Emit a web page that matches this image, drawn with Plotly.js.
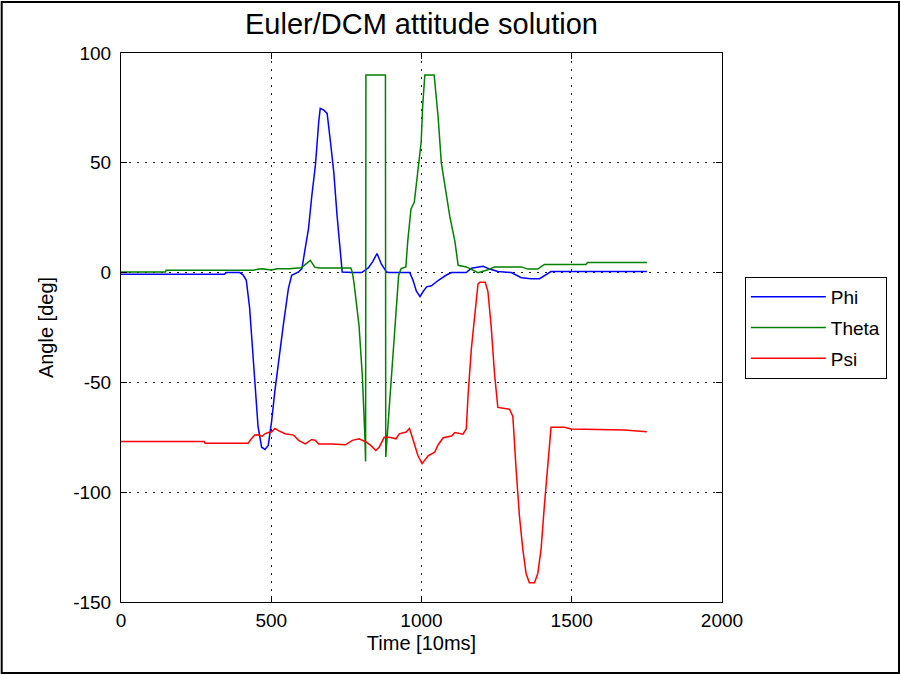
<!DOCTYPE html>
<html>
<head>
<meta charset="utf-8">
<script src="https://cdn.plot.ly/plotly-3.0.1.min.js"></script>
<style>
html,body{margin:0;padding:0;background:#fff;}
#chart{width:901px;height:675px;}
</style>
</head>
<body>
<div id="chart"></div>
<script>
// Series names
var seriesNames = ["Phi", "Theta", "Psi"];
var seriesColors = ["#0000ff", "#008000", "#ff0000"];

// Phi (time in 10ms, angle in deg)
var phiX = [0,344,350,395,406,417,428,445,456,468,479,490,501,512,524,540,557,568,591,602,613,624,635,647,658,663,675,686,697,708,719,730,736,770,801,823,837,852,867,882,889,961,972,983,995,1006,1017,1033,1055,1083,1100,1149,1166,1205,1227,1254,1299,1332,1365,1393,1415,1431,1750];
var phiY = [-0.8,-0.8,0,0,-1,-3.5,-16,-50,-70,-79.5,-80.5,-78.7,-68,-54,-40.7,-24,-7.3,-1.2,0.3,1.8,11,20,35,49,68.7,74.8,74,72.5,59.6,45.9,26,11,0.3,0,0,2.1,4.9,8.7,3.7,0.6,0,0,-3.6,-8.5,-10.9,-8.5,-6.5,-6,-3.6,-1.1,0,0,2,2.9,1.6,0.5,0,-2.3,-2.8,-2.8,-1.1,0.5,0.5];

// Theta
var thetaX = [0,148,150,440,456,470,500,520,560,600,630,645,658,765,770,775,792,803,811,814,815,880,881,893,904,915,924,932,948,954,965,976,988,999,1004,1011,1042,1055,1066,1083,1094,1111,1122,1149,1166,1188,1221,1243,1332,1354,1387,1409,1547,1553,1750];
var thetaY = [0.3,0.3,1.1,1.1,1.5,1.8,1.2,1.8,1.8,2.2,5.6,2.5,2.1,2.1,0,-4.3,-24,-46.8,-72.6,-86,90,90,-84,-62,-40.7,-19.5,-1.2,1.8,2.6,14,29,32,47,59.6,76,90,90,71.4,50,35.5,25.7,14.3,3.3,2.6,1.3,0,1.3,2.6,2.6,1.6,1.6,3.7,3.7,4.6,4.6];

// Psi
var psiX = [0,277,280,423,434,445,456,470,479,490,501,512,524,546,574,591,613,624,635,647,658,703,747,770,792,814,831,848,859,876,893,915,926,949,960,971,988,1002,1016,1022,1044,1055,1072,1100,1111,1138,1149,1155,1166,1177,1188,1194,1212,1221,1232,1243,1254,1293,1304,1315,1326,1337,1348,1359,1376,1387,1398,1409,1420,1431,1476,1498,1675,1750];
var psiY = [-76.9,-76.9,-77.7,-77.7,-75.7,-74,-73.9,-74.5,-73.4,-72.8,-72.6,-71,-72,-73.4,-74,-76.4,-78,-77,-76,-76.4,-78,-78,-78.4,-76.4,-75.7,-77,-78.7,-81,-79.5,-75,-75,-75.7,-73.4,-72.6,-71,-75.7,-83.3,-87,-84.8,-83.4,-81.8,-78.5,-75.2,-74.4,-72.8,-73.6,-71.2,-55.7,-34.5,-18.2,-5.2,-4.4,-4.4,-8.5,-24.8,-46,-61.4,-62.2,-65.5,-90,-111,-125.8,-137,-141.2,-141.2,-137,-125.8,-106,-86.7,-70.4,-70.4,-71.2,-71.7,-72.5];

// Axis ticks
var xTicks = [0, 500, 1000, 1500, 2000];
var yTicks = [-150, -100, -50, 0, 50, 100];

var xs = [phiX, thetaX, psiX];
var ys = [phiY, thetaY, psiY];

var FONT = "Liberation Sans, Arial, Helvetica, sans-serif";

var traces = seriesNames.map(function(n, i){
  return {
    x: xs[i], y: ys[i], name: n, type: "scatter", mode: "lines",
    legendgroup: "g" + i,
    line: {color: seriesColors[i], width: 1.5}
  };
});

var axisCommon = {
  showline: true, linecolor: "#000", linewidth: 1, mirror: "allticks",
  ticks: "inside", ticklen: 6, tickcolor: "#000", tickwidth: 1,
  showgrid: true, gridcolor: "#222", griddash: "2px,6px", gridwidth: 1,
  zeroline: false, tickfont: {family: FONT, size: 19, color: "#000"}
};

var layout = {
  width: 901, height: 675,
  paper_bgcolor: "#fff", plot_bgcolor: "#fff",
  margin: {l: 121, r: 179, t: 53, b: 73},
  title: {text: "Euler/DCM attitude solution", font: {family: FONT, size: 29, color: "#000"},
          x: 0.5, xref: "paper", xanchor: "center", y: 0.965, yref: "container", yanchor: "middle"},
  xaxis: Object.assign({}, axisCommon, {
    range: [0, 2000], tickvals: xTicks, ticktext: xTicks.map(String),
    ticklabelstandoff: 1,
    title: {text: "Time [10ms]", font: {family: FONT, size: 20, color: "#000"}, standoff: 6}
  }),
  yaxis: Object.assign({}, axisCommon, {
    range: [-150, 100], tickvals: yTicks, ticktext: yTicks.map(String),
    ticklabelstandoff: 5,
    title: {text: "Angle [deg]", font: {family: FONT, size: 20, color: "#000"}, standoff: 14}
  }),
  showlegend: true,
  legend: {
    x: 1.038, y: 0.592, xref: "paper", yref: "paper", xanchor: "left", yanchor: "top",
    bordercolor: "#000", borderwidth: 1, bgcolor: "#fff",
    font: {family: FONT, size: 19, color: "#000"},
    itemwidth: 75, tracegroupgap: 3
  },
  shapes: [{
    type: "rect", xref: "paper", yref: "paper",
    x0: -0.1985, x1: 1.2945, y0: -0.1293, y1: 1.0929,
    line: {color: "#000", width: 2}, fillcolor: "rgba(0,0,0,0)", layer: "below"
  }]
};

Plotly.newPlot("chart", traces, layout, {displayModeBar: false, staticPlot: true});
</script>
</body>
</html>
